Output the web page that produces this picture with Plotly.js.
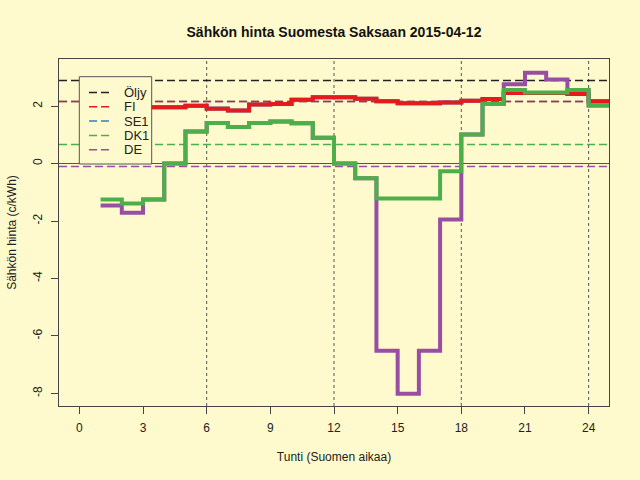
<!DOCTYPE html>
<html>
<head>
<meta charset="utf-8">
<script src="https://cdn.plot.ly/plotly-3.0.1.min.js"></script>
<style>
html, body { margin: 0; padding: 0; background: #FFFACD; }
#plot { width: 640px; height: 480px; }
</style>
</head>
<body>
<div id="plot"></div>
<script>
// tunnit 1..24, viimeinen arvo toistettu jotta porras jatkuu reunaan
var tunnit = [1, 2, 3, 4, 5, 6, 7, 8, 9, 10, 11, 12, 13, 14, 15, 16, 17, 18, 19, 20, 21, 22, 23, 24, 25]
var fi  = [1.95, 1.95, 1.96, 1.96, 2.01, 1.91, 1.85, 2.06, 2.07, 2.22, 2.31, 2.31, 2.26, 2.17, 2.10, 2.10, 2.13, 2.19, 2.25, 2.46, 2.46, 2.46, 2.42, 2.17, 2.17]
var se1 = [1.95, 1.95, 1.96, 1.96, 2.01, 1.92, 1.85, 2.06, 2.07, 2.22, 2.31, 2.31, 2.26, 2.17, 2.10, 2.10, 2.13, 2.19, 2.25, 2.46, 2.46, 2.46, 2.42, 2.17, 2.17]
var dk1 = [-1.25, -1.39, -1.25, 0.00, 1.12, 1.41, 1.27, 1.41, 1.46, 1.40, 0.90, 0.00, -0.51, -1.22, -1.22, -1.22, -0.27, 1.01, 2.08, 2.56, 2.47, 2.47, 2.56, 2.02, 2.02]
var de  = [-1.46, -1.71, -1.25, 0.00, 1.12, 1.41, 1.27, 1.41, 1.46, 1.40, 0.90, 0.00, -0.51, -6.52, -8.01, -6.52, -1.95, 1.01, 2.08, 2.76, 3.16, 2.93, 2.56, 2.02, 2.02]

var nimet = ['Öljy', 'FI', 'SE1', 'DK1', 'DE']
var keskiarvot = [2.89, 2.16, 2.16, 0.66, -0.10]
var varit = ['#222222', '#E41A1C', '#377EB8', '#4DAF4A', '#984EA3']

var xTicks = [0, 3, 6, 9, 12, 15, 18, 21, 24]
var yTicks = [-8, -6, -4, -2, 0, 2]
var apuviivat = [6, 12, 18, 24]

var tausta = '#FFFACD'
var fontti = '"Liberation Sans", Arial, Helvetica, sans-serif'
var M = {l: 59, r: 31, t: 59, b: 74}

function px(x) { return (x - M.l) / (640 - M.l - M.r) }
function py(y) { return 1 - (y - M.t) / (480 - M.t - M.b) }

function porras(y, vari) {
    return {
        x: tunnit, y: y, type: 'scatter', mode: 'lines',
        line: {shape: 'hv', color: vari, width: 4},
        showlegend: false, hoverinfo: 'skip'
    }
}

// piirtojärjestys: SE1 alimpana, sitten FI, DE ja DK1 päällimmäisenä
var data = [
    porras(se1, varit[2]),
    porras(fi, varit[1]),
    porras(de, varit[4]),
    porras(dk1, varit[3])
]

var shapes = []
apuviivat.forEach(function (h) {
    shapes.push({
        type: 'line', xref: 'x', yref: 'paper', x0: h, x1: h, y0: 0, y1: 1,
        layer: 'between', line: {color: '#555555', width: 1, dash: 'dot'}
    })
})
// keskiarvoviivat, SE1 ensin jotta FI peittää sen
var jarj = [0, 2, 1, 3, 4]
jarj.forEach(function (i) {
    shapes.push({
        type: 'line', xref: 'paper', yref: 'y', x0: 0, x1: 1, y0: keskiarvot[i], y1: keskiarvot[i],
        layer: 'between', line: {color: varit[i], width: 1.5, dash: '8px,4px'}
    })
})

// selite
var annotations = []
shapes.push({
    type: 'rect', xref: 'paper', yref: 'paper',
    x0: px(79.3), x1: px(151.7), y0: py(164), y1: py(76.7),
    layer: 'above', fillcolor: tausta, line: {color: '#555555', width: 1}
})
nimet.forEach(function (nimi, i) {
    var yy = 92.5 + i * 14.3
    shapes.push({
        type: 'line', xref: 'paper', yref: 'paper',
        x0: px(89), x1: px(109), y0: py(yy), y1: py(yy),
        layer: 'above', line: {color: varit[i], width: 1.5, dash: '8px,4px'}
    })
    annotations.push({
        xref: 'paper', yref: 'paper', x: px(122), y: py(yy),
        xanchor: 'left', yanchor: 'middle', showarrow: false,
        text: nimi, font: {size: 13, color: '#222222', family: fontti}
    })
})

var layout = {
    width: 640, height: 480,
    margin: {l: M.l, r: M.r, t: M.t, b: M.b, pad: 0},
    paper_bgcolor: tausta, plot_bgcolor: tausta,
    font: {family: fontti, color: '#222222', size: 12},
    showlegend: false,
    title: {
        text: '<b>Sähkön hinta Suomesta Saksaan 2015-04-12</b>',
        font: {size: 14, color: '#111111'},
        xref: 'paper', x: 0.5, xanchor: 'center',
        yref: 'container', y: 1 - 32 / 480, yanchor: 'middle'
    },
    xaxis: {
        range: [-0.96, 24.96], tickvals: xTicks, ticktext: xTicks.map(String),
        showgrid: false, zeroline: false,
        showline: true, mirror: true, linecolor: '#444444', linewidth: 1,
        ticks: 'outside', ticklen: 7, tickcolor: '#444444', ticklabelstandoff: 4,
        tickfont: {size: 12},
        title: {text: 'Tunti (Suomen aikaa)', font: {size: 12}, standoff: 18}
    },
    yaxis: {
        range: [-8.44, 3.64], tickvals: yTicks, ticktext: yTicks.map(String),
        tickangle: -90, showgrid: false,
        zeroline: true, zerolinecolor: '#555555', zerolinewidth: 1,
        showline: true, mirror: true, linecolor: '#444444', linewidth: 1,
        ticks: 'outside', ticklen: 7, tickcolor: '#444444', ticklabelstandoff: 4,
        tickfont: {size: 12},
        title: {text: 'Sähkön hinta (c/kWh)', font: {size: 12}, standoff: 12}
    },
    shapes: shapes,
    annotations: annotations
}

Plotly.newPlot('plot', data, layout, {displayModeBar: false, staticPlot: true})
</script>
</body>
</html>
